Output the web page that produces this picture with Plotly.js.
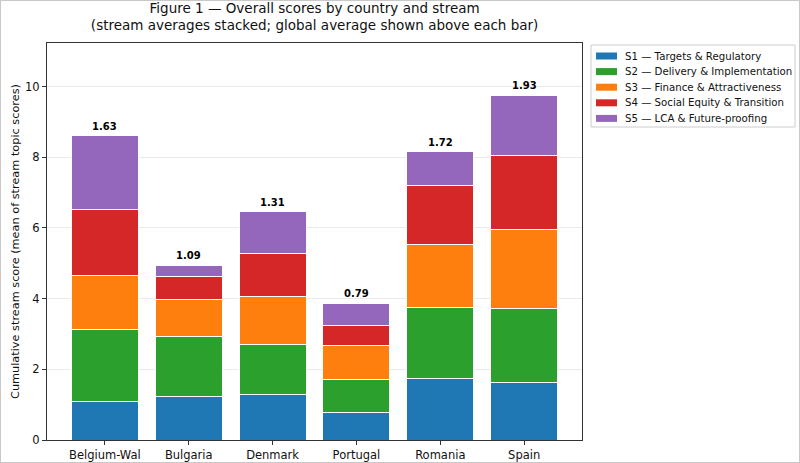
<!DOCTYPE html>
<html>
<head>
<meta charset="utf-8">
<script src="https://cdn.plot.ly/plotly-3.0.1.min.js"></script>
<style>
  html, body { margin: 0; padding: 0; background: #fff; }
  #frame { width: 800px; height: 463px; box-sizing: border-box; border: 1px solid #c8c8c8; }
  #chart { width: 798px; height: 461px; }
</style>
</head>
<body>
<div id="frame"><div id="chart"></div></div>
<script>
// Countries along the x axis
const countries = ["Belgium-Wal", "Bulgaria", "Denmark", "Portugal", "Romania", "Spain"];

// Stream averages per country (stacked in this order)
const s1Targets   = [1.08, 1.24, 1.29, 0.78, 1.75, 1.64];
const s2Delivery  = [2.05, 1.68, 1.41, 0.94, 1.99, 2.07];
const s3Finance   = [1.51, 1.06, 1.35, 0.95, 1.78, 2.25];
const s4Social    = [1.88, 0.65, 1.22, 0.56, 1.69, 2.09];
const s5LCA       = [2.08, 0.31, 1.18, 0.64, 0.95, 1.70];

// Global average printed above each bar
const globalAvg = [1.63, 1.09, 1.31, 0.79, 1.72, 1.93];

const streamNames = [
  "S1 — Targets & Regulatory",
  "S2 — Delivery & Implementation",
  "S3 — Finance & Attractiveness",
  "S4 — Social Equity & Transition",
  "S5 — LCA & Future-proofing"
];
const streamValues = [s1Targets, s2Delivery, s3Finance, s4Social, s5LCA];
const streamColors = ["#1f77b4", "#2ca02c", "#ff7f0e", "#d62728", "#9467bd"];

const font = "DejaVu Sans, sans-serif";

// Plot area geometry (pixels inside the chart div)
const W = 798, H = 461;
const M = { l: 46, r: 217, t: 42, b: 22 };
const plotW = W - M.l - M.r;
const plotH = H - M.t - M.b;
// pixel -> paper fraction helpers for the compact legend box
const px = x => (x - M.l) / plotW;
const py = y => (H - M.b - y) / plotH;

const traces = streamValues.map((vals, i) => ({
  type: "bar",
  name: streamNames[i],
  x: countries,
  y: vals,
  marker: { color: streamColors[i], line: { color: "#ffffff", width: 1 } },
  showlegend: false,
  hoverinfo: "x+y+name"
}));

// Stack totals so each label sits on top of its bar
const totals = countries.map((_, j) => streamValues.reduce((s, arr) => s + arr[j], 0));

const annotations = countries.map((c, j) => ({
  x: c,
  y: totals[j],
  xref: "x",
  yref: "y",
  text: "<b>" + globalAvg[j].toFixed(2) + "</b>",
  showarrow: false,
  yanchor: "bottom",
  yshift: 2,
  font: { family: font, size: 10, color: "#000" }
}));

// Compact legend: framed box, colour patches and labels
const legBox = { x0: 590, x1: 794, y0: 44, y1: 126 };
const legRow0 = 55, legStep = 15.6;
const shapes = [{
  type: "rect", xref: "paper", yref: "paper",
  x0: px(legBox.x0), x1: px(legBox.x1), y0: py(legBox.y1), y1: py(legBox.y0),
  line: { color: "#cccccc", width: 1 }, fillcolor: "#ffffff", layer: "above"
}];
streamNames.forEach((name, i) => {
  const cy = legRow0 + i * legStep;
  shapes.push({
    type: "rect", xref: "paper", yref: "paper",
    x0: px(595), x1: px(616), y0: py(cy + 3.5), y1: py(cy - 3.5),
    line: { width: 0 }, fillcolor: streamColors[i], layer: "above"
  });
  annotations.push({
    xref: "paper", yref: "paper",
    x: px(622), y: py(cy),
    xanchor: "left", yanchor: "middle",
    text: name, showarrow: false,
    font: { family: font, size: 10.2, color: "#111" }
  });
});

const layout = {
  width: W,
  height: H,
  barmode: "stack",
  bargap: 0.2,
  showlegend: false,
  paper_bgcolor: "#ffffff",
  plot_bgcolor: "#ffffff",
  margin: { l: M.l, r: M.r, t: M.t, b: M.b, autoexpand: false },
  font: { family: font, size: 11, color: "#222" },
  title: {
    text: "Figure 1 — Overall scores by country and stream<br>(stream averages stacked; global average shown above each bar)",
    font: { family: font, size: 13.5, color: "#111" },
    x: 0.393,
    xanchor: "center",
    y: 0.975,
    yanchor: "top",
    yref: "container"
  },
  xaxis: {
    type: "category",
    range: [-0.69, 5.69],
    showline: true,
    linecolor: "#333",
    linewidth: 1,
    mirror: true,
    ticks: "outside",
    ticklen: 4,
    tickcolor: "#333",
    tickfont: { family: font, size: 11.5, color: "#111" },
    showgrid: false
  },
  yaxis: {
    range: [0, 11.23],
    dtick: 2,
    tick0: 0,
    showline: true,
    linecolor: "#333",
    linewidth: 1,
    mirror: true,
    ticks: "outside",
    ticklen: 4,
    tickcolor: "#333",
    tickfont: { family: font, size: 11.5, color: "#111" },
    showgrid: true,
    gridcolor: "#ebebeb",
    gridwidth: 1,
    zeroline: false,
    title: {
      text: "Cumulative stream score (mean of stream topic scores)",
      font: { family: font, size: 11.3, color: "#111" },
      standoff: 3
    }
  },
  shapes: shapes,
  annotations: annotations
};

Plotly.newPlot("chart", traces, layout, { displayModeBar: false, staticPlot: true });
</script>
</body>
</html>
